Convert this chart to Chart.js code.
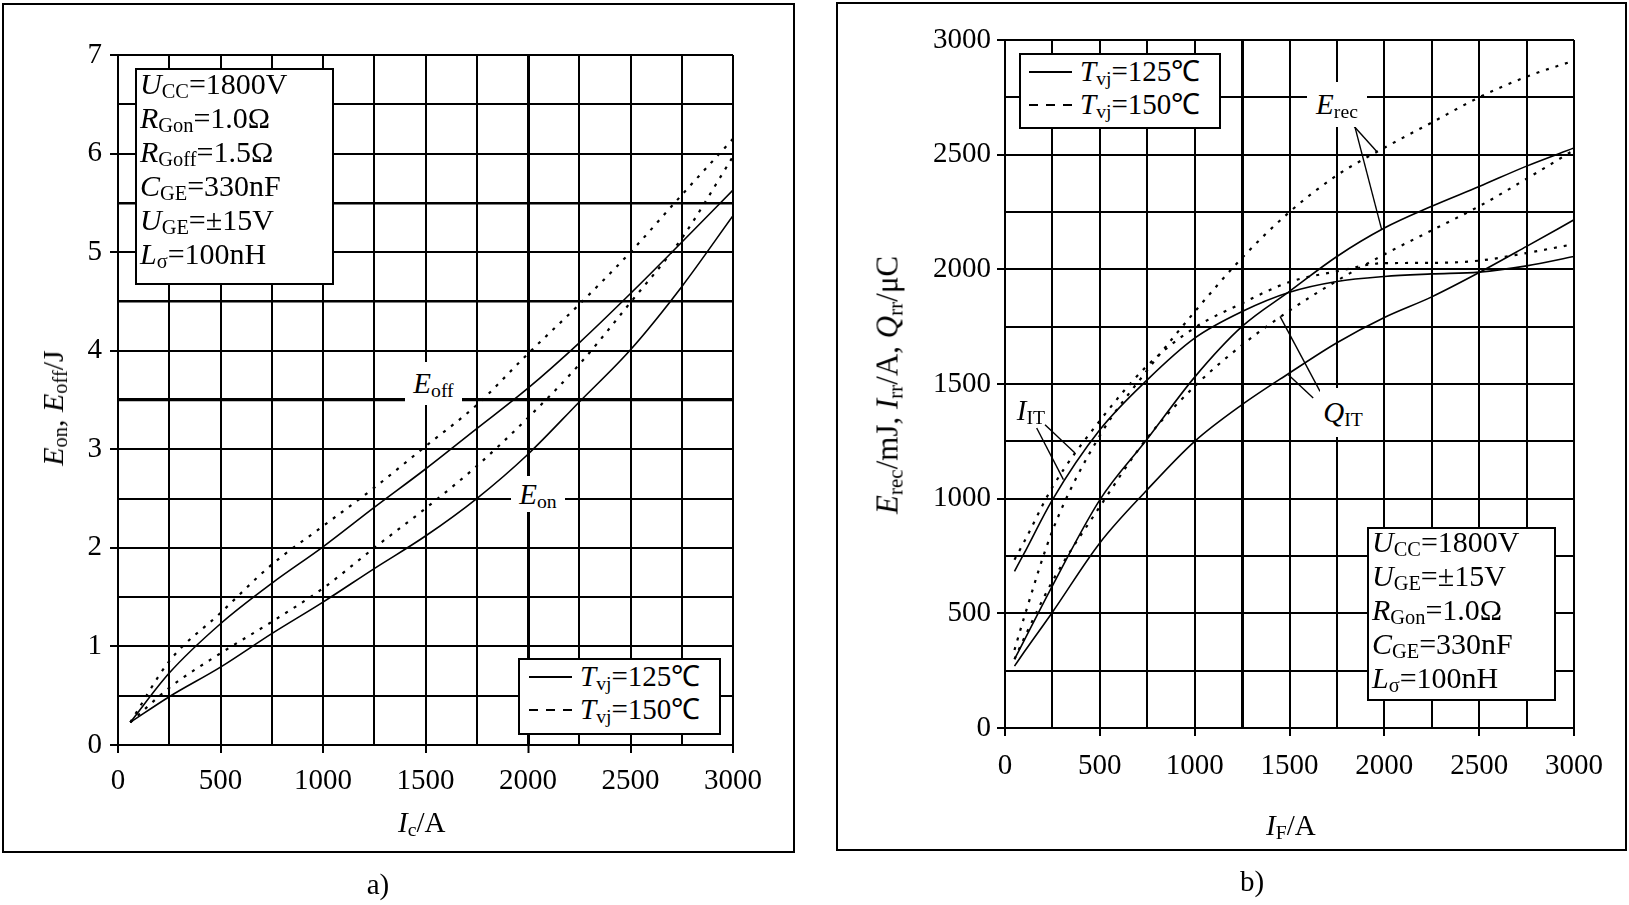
<!DOCTYPE html>
<html><head><meta charset="utf-8">
<script src="https://cdn.jsdelivr.net/npm/chart.js@4.4.1/dist/chart.umd.min.js"></script>
<style>
html,body{margin:0;padding:0;background:#fff;width:1629px;height:905px;overflow:hidden;position:relative;font-family:"Liberation Serif","Times New Roman",serif;color:#000;}
.frame{position:absolute;border:2px solid #000;box-sizing:border-box;}
.cv{position:absolute;top:0;height:905px;}
.t{position:absolute;font-size:29px;line-height:1;white-space:nowrap;}
i{font-style:italic;}
.s{font-size:0.68em;position:relative;top:0.22em;font-style:normal;}
.box{position:absolute;border:2px solid #000;background:#fff;box-sizing:border-box;font-size:30px;white-space:nowrap;}
.box .ln{height:34px;line-height:34px;}
.lg .row{height:33px;line-height:33px;position:relative;}
.sample{position:absolute;top:16px;height:2px;width:43px;}
.solid{background:#000;}
.dash{background:repeating-linear-gradient(90deg,#000 0 9px,transparent 9px 17px);}
.lab{position:absolute;background:#fff;font-size:29px;line-height:1;white-space:nowrap;display:flex;align-items:center;justify-content:center;}
.rot{position:absolute;font-size:29px;line-height:1;white-space:nowrap;}
.cap{position:absolute;font-size:29px;line-height:1;transform:translate(-50%,-50%);}
</style>
</head><body>
<div class="frame" style="left:2px;top:3px;width:793px;height:850px"></div>
<div class="frame" style="left:836px;top:2px;width:791px;height:849px"></div>
<div class="cv" style="left:0;width:815px"><canvas id="c1"></canvas></div>
<div class="cv" style="left:815px;width:814px"><canvas id="c2"></canvas></div>

<!-- left chart texts -->
<div class="box" style="left:135px;top:68px;width:199px;height:217px;padding-left:3px">
 <div class="ln" style="margin-top:-3px"><i>U</i><span class="s">CC</span>=1800V</div>
 <div class="ln"><i>R</i><span class="s">Gon</span>=1.0Ω</div>
 <div class="ln"><i>R</i><span class="s">Goff</span>=1.5Ω</div>
 <div class="ln"><i>C</i><span class="s">GE</span>=330nF</div>
 <div class="ln"><i>U</i><span class="s">GE</span>=±15V</div>
 <div class="ln"><i>L</i><span class="s">σ</span>=100nH</div>
</div>
<div class="box lg" style="left:518px;top:658px;width:203px;height:77px;font-size:29px">
 <div class="row"><div class="sample solid" style="left:9px"></div><span style="position:absolute;left:60px"><i>T</i><span class="s">vj</span>=125℃</span></div>
 <div class="row"><div class="sample dash" style="left:9px"></div><span style="position:absolute;left:60px"><i>T</i><span class="s">vj</span>=150℃</span></div>
</div>
<div class="lab" style="left:405px;top:362px;width:57px;height:43px"><span><i>E</i><span class="s">off</span></span></div>
<div class="lab" style="left:511px;top:476px;width:54px;height:36px"><span><i>E</i><span class="s">on</span></span></div>
<div class="t" style="left:398px;top:808px"><i>I</i><span class="s">c</span>/A</div>
<div class="rot" style="left:53px;top:408px;font-size:30px;transform:translate(-50%,-50%) rotate(-90deg)"><i>E</i><span class="s">on</span>, <i>E</i><span class="s">off</span>/J</div>
<div class="cap" style="left:378px;top:884px">a)</div>

<!-- right chart texts -->
<div class="box lg" style="left:1019px;top:53px;width:202px;height:76px;font-size:29px">
 <div class="row"><div class="sample solid" style="left:8px"></div><span style="position:absolute;left:59px"><i>T</i><span class="s">vj</span>=125℃</span></div>
 <div class="row"><div class="sample dash" style="left:8px"></div><span style="position:absolute;left:59px"><i>T</i><span class="s">vj</span>=150℃</span></div>
</div>
<div class="box" style="left:1367px;top:527px;width:189px;height:174px;padding-left:3px">
 <div class="ln" style="margin-top:-4px"><i>U</i><span class="s">CC</span>=1800V</div>
 <div class="ln"><i>U</i><span class="s">GE</span>=±15V</div>
 <div class="ln"><i>R</i><span class="s">Gon</span>=1.0Ω</div>
 <div class="ln"><i>C</i><span class="s">GE</span>=330nF</div>
 <div class="ln"><i>L</i><span class="s">σ</span>=100nH</div>
</div>
<div class="lab" style="left:1307px;top:82px;width:60px;height:45px"><span><i>E</i><span class="s">rec</span></span></div>
<div class="lab" style="left:1014px;top:396px;width:34px;height:28px;background:transparent"><span><i>I</i><span class="s">IT</span></span></div>
<div class="lab" style="left:1320px;top:388px;width:46px;height:49px"><span><i>Q</i><span class="s">IT</span></span></div>
<div class="t" style="left:1266px;top:811px"><i>I</i><span class="s">F</span>/A</div>
<div class="rot" style="left:887px;top:385px;font-size:31px;transform:translate(-50%,-50%) rotate(-90deg)"><i>E</i><span class="s">rec</span>/mJ, <i>I</i><span class="s">rr</span>/A, <i>Q</i><span class="s">rr</span>/μC</div>
<div class="cap" style="left:1252px;top:881px">b)</div>

<script>
// ---------- data: figure a) ----------
const collectorCurrent = [60, 250, 500, 750, 1000, 1250, 1500, 1750, 2000, 2250, 2500, 2750, 3000];
const eoff125 = [0.23, 0.73, 1.23, 1.64, 2.01, 2.41, 2.80, 3.21, 3.62, 4.08, 4.58, 5.10, 5.63];
const eoff150 = [0.23, 0.85, 1.34, 1.83, 2.22, 2.61, 3.03, 3.45, 3.97, 4.47, 5.00, 5.58, 6.15];
const eon125  = [0.23, 0.49, 0.79, 1.13, 1.45, 1.79, 2.12, 2.50, 2.95, 3.48, 4.01, 4.65, 5.37];
const eon150  = [0.23, 0.58, 0.93, 1.25, 1.59, 2.00, 2.40, 2.83, 3.32, 3.86, 4.49, 5.14, 5.97];
const leftYTicks = [0, 1, 2, 3, 4, 5, 6, 7];
const leftXTicks = [0, 500, 1000, 1500, 2000, 2500, 3000];

// ---------- data: figure b) ----------
const forwardCurrent = [50, 100, 250, 500, 750, 1000, 1250, 1500, 1750, 2000, 2250, 2500, 2750, 3000];
const erec125 = [300, 380, 620, 995, 1260, 1530, 1751, 1904, 2056, 2180, 2275, 2361, 2450, 2529];
const erec150 = [340, 480, 860, 1275, 1560, 1815, 2050, 2250, 2410, 2530, 2640, 2750, 2840, 2910];
const irr125  = [683, 760, 995, 1300, 1518, 1700, 1816, 1900, 1947, 1969, 1980, 1988, 2015, 2056];
const irr150  = [734, 810, 1050, 1340, 1580, 1745, 1852, 1945, 1991, 2027, 2028, 2038, 2071, 2110];
const qrr125  = [270, 330, 505, 807, 1039, 1250, 1410, 1548, 1680, 1790, 1880, 1986, 2100, 2216];
const qrr150  = [300, 390, 640, 965, 1265, 1490, 1670, 1820, 1950, 2065, 2170, 2275, 2395, 2520];
const rightYTicks = [0, 500, 1000, 1500, 2000, 2500, 3000];
const rightXTicks = [0, 500, 1000, 1500, 2000, 2500, 3000];

// leader lines of curve labels (data units: [x1, y1, x2, y2])
const leadersB = [
  [1808, 2653, 1960, 2514],
  [1835, 2653, 1986, 2173],
  [167, 1308, 308, 1083],
  [211, 1322, 369, 1199],
  [1661, 1468, 1450, 1795],
  [1625, 1439, 1494, 1540]
];

const FONT = {family: '"Liberation Serif","Times New Roman",serif', size: 29};
function pts(xs, ys) { return xs.map((x, i) => ({x: x, y: ys[i]})); }
function ds(xs, ys, dashed) {
  return {
    data: pts(xs, ys), borderColor: '#000', backgroundColor: '#000',
    borderWidth: dashed ? 2.2 : 1.6, borderDash: dashed ? [3, 7] : [],
    pointRadius: 0, cubicInterpolationMode: 'monotone', fill: false
  };
}
function axis(o) {
  return {
    type: 'linear', min: o.min, max: o.max,
    afterFit: s => { if (o.w !== undefined) s.width = o.w; if (o.h !== undefined) s.height = o.h; },
    afterBuildTicks: s => { const t = []; for (let v = o.min; v <= o.max + 1e-9; v += o.step) t.push({value: v}); s.ticks = t; },
    ticks: {
      autoSkip: false, maxRotation: 0, minRotation: 0, color: '#000', font: FONT, padding: o.pad,
      callback: v => (o.labels.includes(v) ? String(v) : '')
    },
    grid: {
      color: '#000', drawTicks: true, tickLength: 8,
      lineWidth: c => (c.tick && o.thick[c.tick.value]) || 2,
      tickColor: c => (c.tick && o.labels.includes(c.tick.value)) ? '#000' : 'rgba(0,0,0,0)',
      tickWidth: 2
    },
    border: {display: true, color: '#000', width: 2}
  };
}
const leaderPlugin = {
  id: 'leaders',
  afterDatasetsDraw(chart, args, opts) {
    if (!opts.lines) return;
    const ctx = chart.ctx, xs = chart.scales.x, ys = chart.scales.y;
    ctx.save();
    ctx.strokeStyle = '#000'; ctx.lineWidth = 1.4;
    opts.lines.forEach(l => {
      ctx.beginPath();
      ctx.moveTo(xs.getPixelForValue(l[0]), ys.getPixelForValue(l[1]));
      ctx.lineTo(xs.getPixelForValue(l[2]), ys.getPixelForValue(l[3]));
      ctx.stroke();
    });
    ctx.restore();
  }
};
Chart.register(leaderPlugin);

new Chart(document.getElementById('c1'), {
  type: 'line',
  data: {datasets: [
    ds(collectorCurrent, eoff125, false), ds(collectorCurrent, eoff150, true),
    ds(collectorCurrent, eon125, false), ds(collectorCurrent, eon150, true)
  ]},
  options: {
    responsive: true, maintainAspectRatio: false, animation: false, events: [],
    layout: {padding: {left: 0, right: 82, top: 55, bottom: 100}},
    plugins: {legend: {display: false}, tooltip: {enabled: false}, leaders: {}},
    scales: {
      x: axis({min: 0, max: 3000, step: 250, labels: leftXTicks, pad: 11, h: 60, thick: {2000: 3}}),
      y: axis({min: 0, max: 7, step: 0.5, labels: leftYTicks, pad: 8, w: 118, thick: {3.5: 3.2, 4.5: 2.5, 5.5: 2.5}})
    }
  }
});

new Chart(document.getElementById('c2'), {
  type: 'line',
  data: {datasets: [
    ds(forwardCurrent, erec125, false), ds(forwardCurrent, erec150, true),
    ds(forwardCurrent, irr125, false), ds(forwardCurrent, irr150, true),
    ds(forwardCurrent, qrr125, false), ds(forwardCurrent, qrr150, true)
  ]},
  options: {
    responsive: true, maintainAspectRatio: false, animation: false, events: [],
    layout: {padding: {left: 0, right: 55, top: 40, bottom: 116}},
    plugins: {legend: {display: false}, tooltip: {enabled: false}, leaders: {lines: leadersB}},
    scales: {
      x: axis({min: 0, max: 3000, step: 250, labels: rightXTicks, pad: 13, h: 61, thick: {1250: 3}}),
      y: axis({min: 0, max: 3000, step: 250, labels: rightYTicks, pad: 6, w: 190, thick: {}})
    }
  }
});
</script>
</body></html>
